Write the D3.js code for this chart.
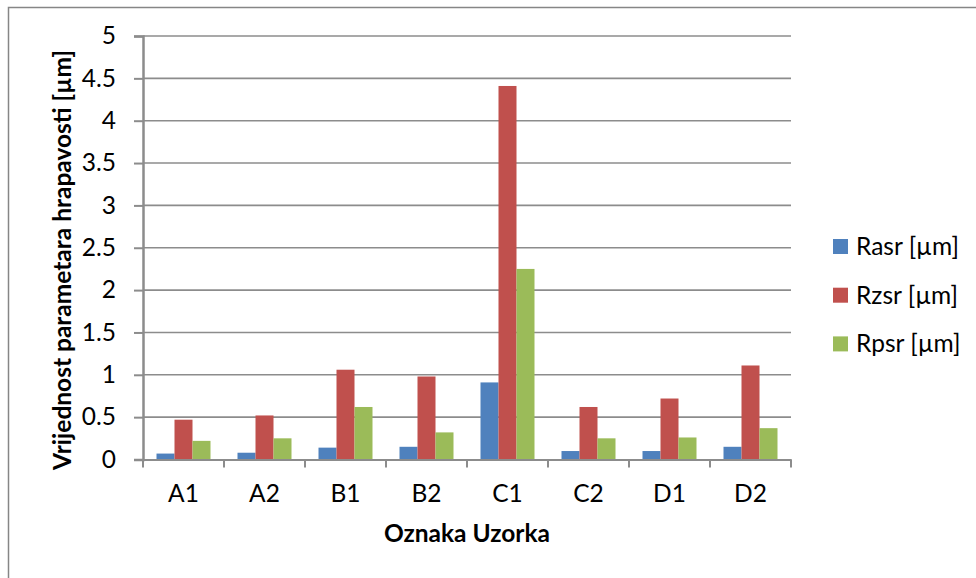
<!DOCTYPE html>
<html>
<head>
<meta charset="utf-8">
<script src="https://cdn.jsdelivr.net/npm/d3@7"></script>
<style>
    body { margin: 0; background: #fff; }
    svg text { font-family: Lato, "Liberation Sans", sans-serif; fill: #000; }
</style>
</head>
<body>
<div class="container"></div>
<script>
var categories = ['A1', 'A2', 'B1', 'B2', 'C1', 'C2', 'D1', 'D2'];
var seriesNames = ['Rasr [µm]', 'Rzsr [µm]', 'Rpsr [µm]'];
var rasr = [0.07, 0.08, 0.14, 0.15, 0.91, 0.10, 0.10, 0.15];
var rzsr = [0.47, 0.52, 1.06, 0.98, 4.41, 0.62, 0.72, 1.11];
var rpsr = [0.22, 0.25, 0.62, 0.32, 2.25, 0.25, 0.26, 0.37];
var yTicks = [0, 0.5, 1, 1.5, 2, 2.5, 3, 3.5, 4, 4.5, 5];
var seriesColors = ['#4F81BD', '#C0504D', '#9BBB59'];

var W = 976, H = 578;
var plot = { left: 143, right: 791, top: 36, bottom: 459.5 };

var svg = d3.select('.container')
    .append('svg')
    .attr('width', W)
    .attr('height', H);

// chart border
svg.append('rect')
    .attr('x', 8.5)
    .attr('y', 7.5)
    .attr('width', W)
    .attr('height', H)
    .attr('fill', 'none')
    .attr('stroke', '#868686')
    .attr('stroke-width', 1.5);

var x = d3.scaleBand().domain(categories).range([plot.left, plot.right]);
var xInner = d3.scaleBand().domain(seriesNames).range([x.bandwidth() / 6, x.bandwidth() * 5 / 6]);
var y = d3.scaleLinear().domain([0, 5]).range([plot.bottom, plot.top]);
var color = d3.scaleOrdinal().domain(seriesNames).range(seriesColors);

// gridlines
svg.append('g')
    .selectAll('line')
    .data(yTicks.slice(1))
    .enter()
    .append('line')
    .attr('x1', plot.left)
    .attr('x2', plot.right)
    .attr('y1', function (d) { return y(d); })
    .attr('y2', function (d) { return y(d); })
    .attr('stroke', '#8c8c8c')
    .attr('stroke-width', 1.6);

// bars
var table = categories.map(function (c, i) {
    return { category: c, values: [rasr[i], rzsr[i], rpsr[i]] };
});

var group = svg.append('g')
    .selectAll('g')
    .data(table)
    .enter()
    .append('g')
    .attr('transform', function (d) { return 'translate(' + x(d.category) + ',0)'; });

group.selectAll('rect')
    .data(function (d) {
        return d.values.map(function (v, j) { return { name: seriesNames[j], value: v }; });
    })
    .enter()
    .append('rect')
    .attr('x', function (d) { return xInner(d.name); })
    .attr('width', xInner.bandwidth())
    .attr('y', function (d) { return y(d.value); })
    .attr('height', function (d) { return y(0) - y(d.value); })
    .attr('fill', function (d) { return color(d.name); });

// y axis
var yAxis = svg.append('g')
    .attr('transform', 'translate(' + plot.left + ',0)')
    .call(d3.axisLeft(y).tickValues(yTicks).tickSize(9).tickPadding(18).tickFormat(d3.format('')));
yAxis.select('.domain').attr('stroke', '#8c8c8c').attr('stroke-width', 2.5);
yAxis.selectAll('.tick line').attr('stroke', '#8c8c8c').attr('stroke-width', 2);
yAxis.selectAll('.tick text').style('font-size', '24.5px').attr('fill', '#000');

// x axis
var xAxis = svg.append('g')
    .attr('transform', 'translate(0,' + plot.bottom + ')')
    .call(d3.axisBottom(x).tickSize(0).tickPadding(25));
xAxis.select('.domain').attr('stroke', '#8c8c8c').attr('stroke-width', 2);
xAxis.selectAll('.tick text').style('font-size', '24.5px').attr('fill', '#000');

svg.append('g')
    .selectAll('line')
    .data(categories.concat(['end']))
    .enter()
    .append('line')
    .attr('x1', function (d, i) { return plot.left + i * x.step(); })
    .attr('x2', function (d, i) { return plot.left + i * x.step(); })
    .attr('y1', plot.bottom)
    .attr('y2', plot.bottom + 8)
    .attr('stroke', '#8c8c8c')
    .attr('stroke-width', 2);

// axis titles
svg.append('text')
    .attr('x', (plot.left + plot.right) / 2)
    .attr('y', 542)
    .attr('text-anchor', 'middle')
    .style('font-size', '24.5px')
    .style('font-weight', 'bold')
    .text('Oznaka Uzorka');

svg.append('text')
    .attr('transform', 'translate(71,260) rotate(-90)')
    .attr('text-anchor', 'middle')
    .style('font-size', '24.5px')
    .style('font-weight', 'bold')
    .text('Vrijednost parametara hrapavosti [µm]');

// legend
var legend = svg.append('g')
    .selectAll('g')
    .data(seriesNames)
    .enter()
    .append('g')
    .attr('transform', function (d, i) { return 'translate(833,' + (239 + i * 48.7) + ')'; });

legend.append('rect')
    .attr('width', 15)
    .attr('height', 15)
    .attr('fill', function (d) { return color(d); });

legend.append('text')
    .attr('x', 23)
    .attr('y', 16)
    .style('font-size', '24.5px')
    .text(function (d) { return d; });
</script>
</body>
</html>
